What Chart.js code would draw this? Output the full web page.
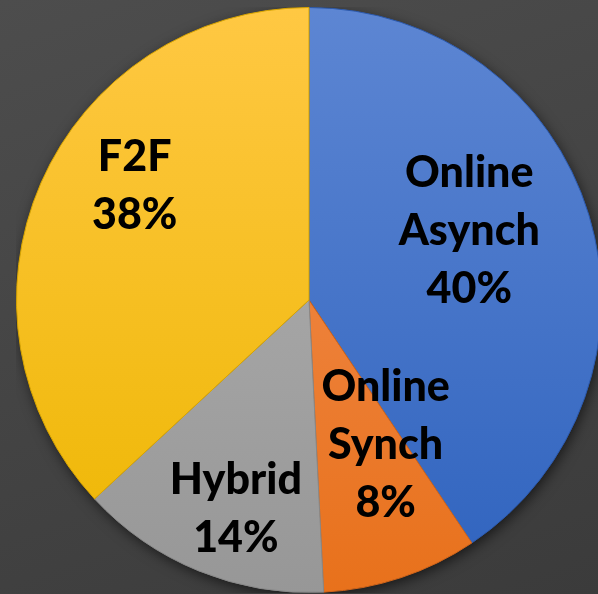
<!DOCTYPE html>
<html>
<head>
<meta charset="utf-8">
<script src="https://cdn.jsdelivr.net/npm/chart.js@4/dist/chart.umd.min.js"></script>
<style>
  html, body { margin: 0; padding: 0; width: 598px; height: 594px; overflow: hidden; }
  body { background: linear-gradient(160deg, #4d4d4d 0%, #444444 50%, #3b3b3b 100%); position: relative; }
  #c { position: absolute; left: 16px; top: 7px; }
</style>
</head>
<body>
<canvas id="c" width="586" height="586"></canvas>
<script>
// ---- data ----
const categories = ["Online Asynch", "Online Synch", "Hybrid", "F2F"];
const labelLines = [["Online", "Asynch"], ["Online", "Synch"], ["Hybrid"], ["F2F"]];
const percentLabels = ["40%", "8%", "14%", "38%"];
const values = [40.6, 8.6, 13.9, 36.9];

// ---- styles ----
const gradStops = [
  ["#5d86d3", "#2f63be"],
  ["#f39159", "#e8711b"],
  ["#b3b3b3", "#979797"],
  ["#ffc843", "#edb600"]
];
const edgeColors = ["#2c5aae", "#d0641a", "#888888", "#d9a500"];
// label anchors relative to pie centre, in units of radius
const labelAnchors = [[0.548, -0.236], [0.262, 0.497], [-0.25, 0.716], [-0.596, -0.39]];

const shadowPlugin = {
  id: 'pieShadow',
  beforeDatasetsDraw(chart) {
    const arc = chart.getDatasetMeta(0).data[0];
    if (!arc) return;
    const c = chart.ctx;
    c.save();
    c.shadowColor = 'rgba(0,0,0,0.65)';
    c.shadowBlur = 14;
    c.shadowOffsetX = 2;
    c.shadowOffsetY = 4;
    c.beginPath();
    c.arc(arc.x, arc.y, arc.outerRadius - 1, 0, Math.PI * 2);
    c.fillStyle = '#3a3a3a';
    c.fill();
    c.restore();
  }
};

const labelPlugin = {
  id: 'sliceLabels',
  afterDatasetsDraw(chart) {
    const meta = chart.getDatasetMeta(0);
    const c = chart.ctx;
    const arc0 = meta.data[0];
    const cx = arc0.x, cy = arc0.y, r = arc0.outerRadius;
    c.save();
    c.fillStyle = '#000000';
    c.textAlign = 'center';
    c.textBaseline = 'middle';
    c.font = '900 43px Lato, "Open Sans", sans-serif';
    const lh = 58;
    meta.data.forEach((arc, i) => {
      const lines = labelLines[i].concat([percentLabels[i]]);
      const ax = cx + labelAnchors[i][0] * r;
      const ay = cy + labelAnchors[i][1] * r;
      const top = ay - (lines.length - 1) * lh / 2;
      lines.forEach((t, k) => c.fillText(t, ax, top + k * lh));
    });
    c.restore();
  }
};

new Chart(document.getElementById('c'), {
  type: 'pie',
  data: {
    labels: categories,
    datasets: [{
      data: values,
      backgroundColor: (ctx) => {
        const chart = ctx.chart;
        const area = chart.chartArea;
        const i = ctx.dataIndex;
        if (!area || i === undefined) return gradStops[i ? i : 0][1];
        const g = chart.ctx.createLinearGradient(0, area.top, 0, area.bottom);
        g.addColorStop(0, gradStops[i][0]);
        g.addColorStop(1, gradStops[i][1]);
        return g;
      },
      borderColor: edgeColors,
      borderWidth: 1
    }]
  },
  options: {
    responsive: false,
    devicePixelRatio: 1,
    animation: false,
    layout: { padding: 0 },
    plugins: {
      legend: { display: false },
      tooltip: { enabled: false },
      title: { display: false }
    }
  },
  plugins: [shadowPlugin, labelPlugin]
});
</script>
</body>
</html>
